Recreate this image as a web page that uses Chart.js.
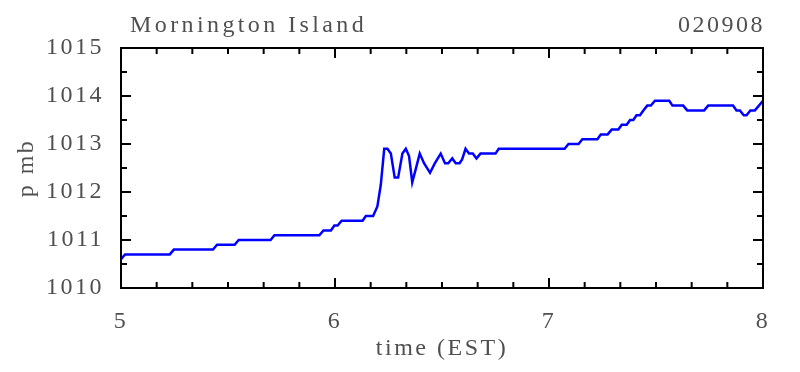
<!DOCTYPE html>
<html>
<head>
<meta charset="utf-8">
<script src="https://cdn.jsdelivr.net/npm/chart.js@4.4.1/dist/chart.umd.min.js"></script>
<style>
    html, body { margin: 0; padding: 0; background: #fff; }
    #wrap { width: 800px; height: 372px; }
</style>
</head>
<body>
<div id="wrap"><canvas id="myChart"></canvas></div>
<script>
"use strict";

var stationName = 'Mornington Island';
var dateCode = '020908';

// hours (EST)
var times = [5.000, 5.019, 5.228, 5.247, 5.430, 5.449, 5.531, 5.550, 5.699, 5.717,
    5.927, 5.946, 5.981, 5.997, 6.012, 6.031, 6.129, 6.144, 6.178, 6.198,
    6.214, 6.230, 6.245, 6.261, 6.279, 6.295, 6.315, 6.331, 6.346, 6.361,
    6.377, 6.396, 6.416, 6.444, 6.467, 6.494, 6.514, 6.529, 6.548, 6.564,
    6.582, 6.594, 6.610, 6.626, 6.644, 6.661, 6.680, 6.750, 6.765, 7.073,
    7.091, 7.138, 7.156, 7.226, 7.242, 7.274, 7.293, 7.324, 7.340, 7.363,
    7.379, 7.394, 7.409, 7.425, 7.441, 7.459, 7.476, 7.495, 7.562, 7.577,
    7.627, 7.646, 7.725, 7.744, 7.860, 7.876, 7.892, 7.910, 7.923, 7.941,
    7.962, 8.000];

// pressure (mb)
var pressures = [1010.6, 1010.7, 1010.7, 1010.8, 1010.8, 1010.9, 1010.9, 1011.0, 1011.0, 1011.1,
    1011.1, 1011.2, 1011.2, 1011.3, 1011.3, 1011.4, 1011.4, 1011.5, 1011.5, 1011.7,
    1012.15, 1012.9, 1012.9, 1012.8, 1012.3, 1012.3, 1012.8, 1012.9, 1012.75, 1012.2,
    1012.47, 1012.8, 1012.6, 1012.4, 1012.6, 1012.8, 1012.6, 1012.6, 1012.7, 1012.6,
    1012.6, 1012.68, 1012.9, 1012.8, 1012.8, 1012.7, 1012.8, 1012.8, 1012.9, 1012.9,
    1013.0, 1013.0, 1013.1, 1013.1, 1013.2, 1013.2, 1013.3, 1013.3, 1013.4, 1013.4,
    1013.5, 1013.5, 1013.6, 1013.6, 1013.7, 1013.8, 1013.8, 1013.9, 1013.9, 1013.8,
    1013.8, 1013.7, 1013.7, 1013.8, 1013.8, 1013.7, 1013.7, 1013.6, 1013.6, 1013.7,
    1013.7, 1013.9];

var xTicks = [5, 6, 7, 8];
var yTicks = [1010, 1011, 1012, 1013, 1014, 1015];

var textColor = '#505050';
var fontFamily = "'Liberation Serif', 'DejaVu Serif', serif";
var spacing = '2.5px';

var points = [];
for (var i = 0; i < times.length; i++) {
    points.push({ x: times[i], y: pressures[i] });
}

// frame with inward ticks on all four sides + header text
var framePlugin = {
    id: 'frame',
    beforeLayout: function(chart) {
        chart.ctx.letterSpacing = spacing;
    },
    beforeDraw: function(chart) {
        chart.ctx.letterSpacing = spacing;
    },
    afterDraw: function(chart) {
        var ctx = chart.ctx;
        var a = chart.chartArea;
        var xs = chart.scales.x;
        var ys = chart.scales.y;
        ctx.save();
        ctx.strokeStyle = '#000';
        ctx.lineWidth = 2;
        ctx.beginPath();
        // x ticks every 10 minutes
        for (var k = 0; k <= 18; k++) {
            var px = xs.getPixelForValue(xTicks[0] + k / 6);
            var len = (k % 6 === 0) ? 10 : 6;
            ctx.moveTo(px, a.bottom); ctx.lineTo(px, a.bottom - len);
            ctx.moveTo(px, a.top); ctx.lineTo(px, a.top + len);
        }
        // y ticks every 0.5 mb
        for (var j = 0; j <= 10; j++) {
            var py = ys.getPixelForValue(yTicks[0] + j / 2);
            var l2 = (j % 2 === 0) ? 10 : 6;
            ctx.moveTo(a.left, py); ctx.lineTo(a.left + l2, py);
            ctx.moveTo(a.right, py); ctx.lineTo(a.right - l2, py);
        }
        ctx.stroke();
        ctx.strokeRect(a.left, a.top, a.right - a.left, a.bottom - a.top);

        ctx.fillStyle = textColor;
        ctx.font = '24px ' + fontFamily;
        ctx.textBaseline = 'alphabetic';
        ctx.textAlign = 'left';
        ctx.letterSpacing = '3.4px';
        ctx.fillText(stationName, a.left + 9, 32);
        ctx.letterSpacing = spacing;
        ctx.textAlign = 'right';
        ctx.fillText(dateCode, a.right + 2, 32);
        ctx.restore();
    }
};

var ctx1 = document.getElementById('myChart').getContext('2d');
var myChart = new Chart(ctx1, {
    type: 'line',
    data: {
        datasets: [{
            data: points,
            borderColor: '#0000ff',
            borderWidth: 2.5,
            pointRadius: 0,
            tension: 0,
            fill: false
        }]
    },
    options: {
        responsive: true,
        maintainAspectRatio: false,
        animation: false,
        layout: {
            padding: { left: 0, right: 37, top: 48, bottom: 0 }
        },
        plugins: {
            legend: { display: false },
            tooltip: { enabled: false }
        },
        scales: {
            x: {
                type: 'linear',
                min: xTicks[0],
                max: xTicks[xTicks.length - 1],
                grid: { display: false, drawTicks: false },
                border: { display: false },
                afterFit: function(s) { s.height = 84; },
                afterBuildTicks: function(s) {
                    s.ticks = xTicks.map(function(v) { return { value: v }; });
                },
                ticks: {
                    color: textColor,
                    padding: 19,
                    maxRotation: 0,
                    font: { family: fontFamily, size: 24 },
                    callback: function(v) { return String(v); }
                },
                title: {
                    display: true,
                    text: 'time (EST)',
                    color: textColor,
                    padding: { top: 0, bottom: 9 },
                    font: { family: fontFamily, size: 24 }
                }
            },
            y: {
                min: yTicks[0],
                max: yTicks[yTicks.length - 1],
                grid: { display: false, drawTicks: false },
                border: { display: false },
                afterFit: function(s) { s.width = 121; },
                afterBuildTicks: function(s) {
                    s.ticks = yTicks.map(function(v) { return { value: v }; });
                },
                ticks: {
                    color: textColor,
                    padding: 17,
                    font: { family: fontFamily, size: 24 },
                    callback: function(v) { return String(v); }
                },
                title: {
                    display: true,
                    text: 'p mb',
                    color: textColor,
                    padding: { top: 12, bottom: 0 },
                    font: { family: fontFamily, size: 24 }
                }
            }
        }
    },
    plugins: [framePlugin]
});
</script>
</body>
</html>
